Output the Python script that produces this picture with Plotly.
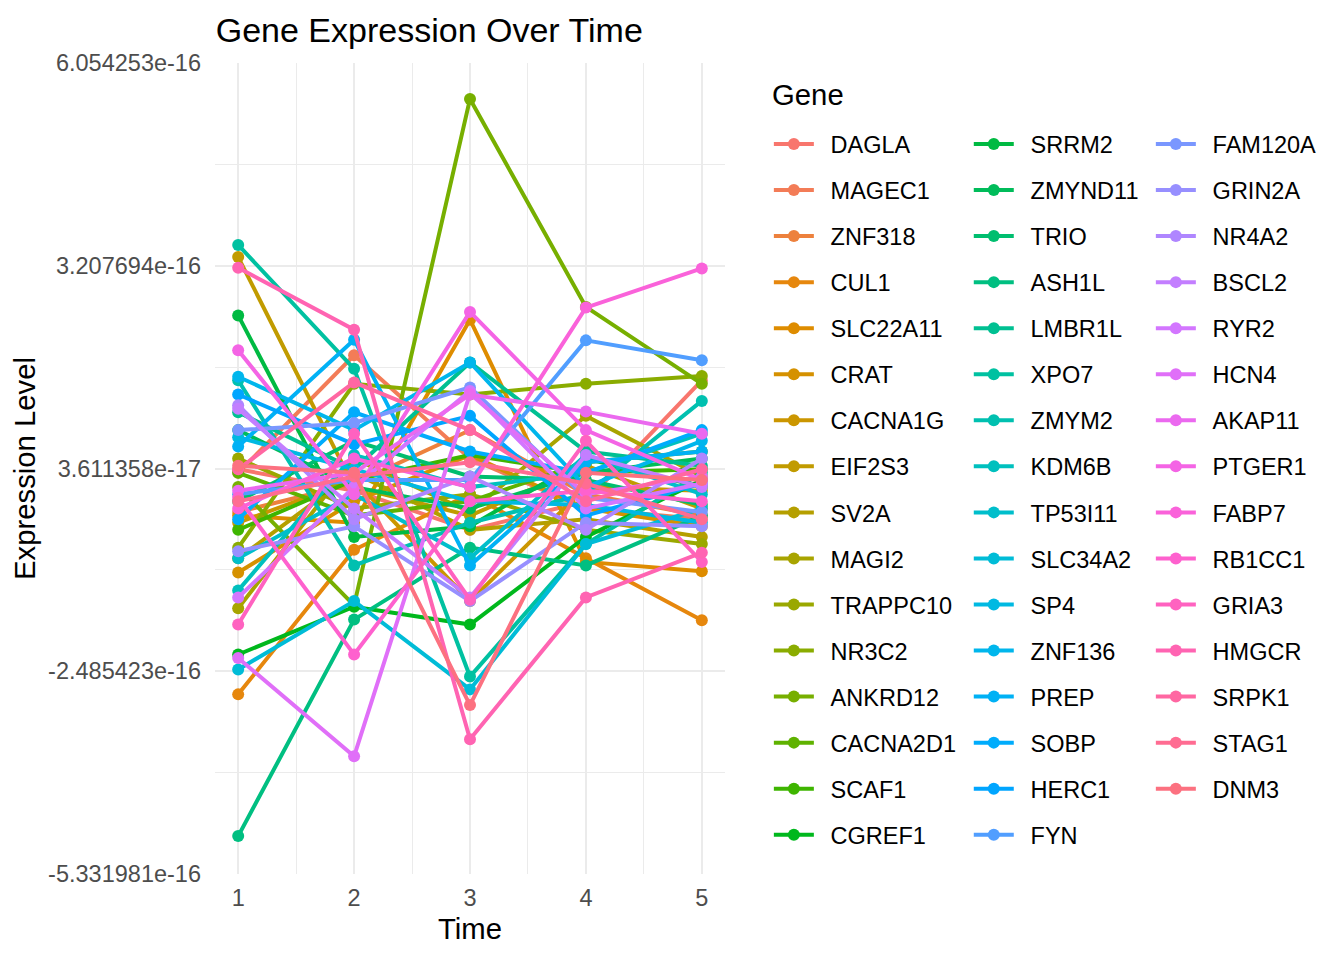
import math
import plotly.graph_objects as go

# values are in units of 1e-16
SCALE = 1e-16
times = [1, 2, 3, 4, 5]

genes = ["DAGLA", "MAGEC1", "ZNF318", "CUL1", "SLC22A11", "CRAT", "CACNA1G", "EIF2S3",
         "SV2A", "MAGI2", "TRAPPC10", "NR3C2", "ANKRD12", "CACNA2D1", "SCAF1", "CGREF1",
         "SRRM2", "ZMYND11", "TRIO", "ASH1L", "LMBR1L", "XPO7", "ZMYM2", "KDM6B",
         "TP53I11", "SLC34A2", "SP4", "ZNF136", "PREP", "SOBP", "HERC1", "FYN",
         "FAM120A", "GRIN2A", "NR4A2", "BSCL2", "RYR2", "HCN4", "AKAP11", "PTGER1",
         "FABP7", "RB1CC1", "GRIA3", "HMGCR", "SRPK1", "STAG1", "DNM3"]

DAGLA = [0.35, 0.05, -0.5, -0.1, 1.6]
MAGEC1 = [0.3, 1.95, 0.5, -0.2, -0.35]
ZNF318 = [-0.25, 0.15, 0.9, 0.0, -0.3]
CUL1 = [-2.81, -0.78, 0.0, -0.9, -1.77]
SLC22A11 = [-0.3, -0.4, 2.45, -0.95, -1.08]
CRAT = [-1.1, -0.1, 0.55, -0.2, -0.45]
CACNA1G = [-0.4, 0.2, -1.5, 0.1, 0.05]
EIF2S3 = [3.33, 0.1, -0.3, 0.4, -0.2]
SV2A = [-0.9, 0.3, -0.5, -0.35, -0.6]
MAGI2 = [-1.6, 0.5, -0.25, 1.1, 0.25]
TRAPPC10 = [0.5, -0.2, 0.0, -0.5, -0.7]
NR3C2 = [-0.75, 1.55, 1.4, 1.55, 1.66]
ANKRD12 = [0.1, -1.56, 5.55, 2.63, 1.55]
CACNA2D1 = [0.3, -0.3, -0.1, 0.45, 0.6]
SCAF1 = [-0.5, 0.2, 0.55, 0.3, 0.35]
CGREF1 = [-2.25, -1.58, -1.83, -0.6, 0.2]
SRRM2 = [2.51, -0.6, -0.45, 0.5, 0.1]
ZMYND11 = [0.9, 0.1, -0.2, 0.3, 0.5]
TRIO = [-0.1, 0.75, 0.25, 0.2, -0.15]
ASH1L = [-4.80, -1.76, -0.75, -1.0, -0.3]
LMBR1L = [1.15, 0.35, 1.85, 0.6, 0.4]
XPO7 = [3.50, 1.76, -2.56, -0.7, 0.3]
ZMYM2 = [1.6, -1.0, -0.4, 0.0, 1.31]
KDM6B = [-1.35, 0.55, 0.1, 0.3, 0.85]
TP53I11 = [-0.9, 0.0, -0.9, 0.55, 0.0]
SLC34A2 = [-2.46, -1.5, -2.74, -0.7, -0.2]
SP4 = [0.8, 0.35, -0.1, -0.15, -0.4]
ZNF136 = [1.65, 0.9, 1.85, 0.1, 0.75]
PREP = [0.67, 2.17, -1.0, 0.45, 0.6]
SOBP = [-0.35, 1.15, 0.6, 0.3, 0.9]
HERC1 = [1.4, 0.7, 1.1, -0.3, 0.15]
FYN = [0.0, 0.2, 0.2, 2.16, 1.88]
FAM120A = [0.9, 1.0, 1.5, -0.05, -0.25]
GRIN2A = [-0.8, -0.45, -1.5, -0.4, -0.45]
NR4A2 = [1.25, -0.35, 0.25, -0.5, 0.5]
BSCL2 = [1.2, -0.2, -1.45, 0.55, 0.1]
RYR2 = [-1.45, 0.1, 1.45, -0.2, 0.15]
HCN4 = [-2.30, -3.68, 1.41, 0.0, 0.25]
AKAP11 = [0.05, 0.3, 1.40, 1.16, 0.85]
PTGER1 = [2.02, 0.0, 2.56, 0.9, 0.2]
FABP7 = [-0.2, 0.5, 0.1, 2.62, 3.17]
RB1CC1 = [-0.05, -2.25, -0.1, 0.05, -0.1]
GRIA3 = [-1.83, 0.85, -1.48, 0.75, -0.95]
HMGCR = [3.18, 2.31, -3.44, -1.45, -0.82]
SRPK1 = [0.35, 1.57, 0.9, -0.1, 0.35]
STAG1 = [-0.1, 0.25, 0.45, 0.15, -0.35]
DNM3 = [0.4, 0.3, -2.96, 0.3, 0.2]

values = [DAGLA, MAGEC1, ZNF318, CUL1, SLC22A11, CRAT, CACNA1G, EIF2S3, SV2A, MAGI2,
          TRAPPC10, NR3C2, ANKRD12, CACNA2D1, SCAF1, CGREF1, SRRM2, ZMYND11, TRIO, ASH1L,
          LMBR1L, XPO7, ZMYM2, KDM6B, TP53I11, SLC34A2, SP4, ZNF136, PREP, SOBP, HERC1,
          FYN, FAM120A, GRIN2A, NR4A2, BSCL2, RYR2, HCN4, AKAP11, PTGER1, FABP7, RB1CC1,
          GRIA3, HMGCR, SRPK1, STAG1, DNM3]

y_ticks = [-5.331981e-16, -2.485423e-16, 3.611358e-17, 3.207694e-16, 6.054253e-16]
y_labels = ["-5.331981e-16", "-2.485423e-16", "3.611358e-17", "3.207694e-16", "6.054253e-16"]


def hcl_hex(h, c=100, l=65):
    # same hue palette as ggplot's default (hcl -> sRGB)
    hr = math.radians(h)
    u = c * math.cos(hr)
    v = c * math.sin(hr)
    xn, yn, zn = 95.047, 100.0, 108.883
    d = xn + 15 * yn + 3 * zn
    un, vn = 4 * xn / d, 9 * yn / d
    Y = yn * ((l + 16) / 116) ** 3
    up = u / (13 * l) + un
    vp = v / (13 * l) + vn
    X = Y * 9 * up / (4 * vp)
    Z = Y * (12 - 3 * up - 20 * vp) / (4 * vp)
    X, Y, Z = X / 100, Y / 100, Z / 100
    rgb = [3.240479 * X - 1.53715 * Y - 0.498535 * Z,
           -0.969256 * X + 1.875992 * Y + 0.041556 * Z,
           0.055648 * X - 0.204043 * Y + 1.057311 * Z]
    out = []
    for ch in rgb:
        ch = 12.92 * ch if ch <= 0.0031308 else 1.055 * ch ** (1 / 2.4) - 0.055
        ch = min(max(ch, 0), 1)
        out.append(round(ch * 255))
    return "#%02X%02X%02X" % tuple(out)


n = len(genes)
colors = [hcl_hex(15 + 360 * i / n) for i in range(n)]

FONT = "Liberation Sans, Arial, sans-serif"

fig = go.Figure()
for i, (g, vals) in enumerate(zip(genes, values)):
    leg = "legend" if i < 16 else ("legend2" if i < 32 else "legend3")
    fig.add_trace(go.Scatter(
        x=times, y=[v * SCALE for v in vals], name="\u2002" + g, mode="lines+markers",
        line=dict(color=colors[i], width=4),
        marker=dict(color=colors[i], size=12),
        legend=leg, legendgroup=g,
    ))

# minor grid at midpoints between the major ticks
y_minor = [(a + b) / 2 for a, b in zip(y_ticks[:-1], y_ticks[1:])]

leg_common = dict(xanchor="left", yanchor="top", y=0.927, bgcolor="rgba(0,0,0,0)",
                  font=dict(family=FONT, size=23.5, color="black"),
                  tracegroupgap=12.5, itemwidth=40, traceorder="grouped")

fig.update_layout(
    width=1344, height=960,
    paper_bgcolor="white", plot_bgcolor="white",
    margin=dict(l=207, r=627, t=55, b=94),
    font=dict(family=FONT, color="black"),
    title=dict(text="Gene Expression Over Time", x=0.0015, xref="paper", xanchor="left",
               y=1 - 22 / 960, yanchor="middle", font=dict(size=34, color="black")),
    xaxis=dict(range=[0.8, 5.2], tickvals=times, showgrid=True, gridcolor="#EBEBEB",
               gridwidth=1.8, zeroline=False, showline=False, ticks="",
               ticklabelstandoff=7,
               tickfont=dict(size=23.5, color="#4D4D4D"),
               minor=dict(tickvals=[1.5, 2.5, 3.5, 4.5], showgrid=True,
                          gridcolor="#EBEBEB", gridwidth=1),
               title=dict(text="Time", font=dict(size=29.3, color="black"), standoff=8)),
    yaxis=dict(range=[y_ticks[0], y_ticks[-1]], tickvals=y_ticks, ticktext=y_labels,
               showgrid=True, gridcolor="#EBEBEB", gridwidth=1.8, zeroline=False,
               showline=False, ticks="", ticklabelstandoff=13,
               tickfont=dict(size=23.5, color="#4D4D4D"),
               minor=dict(tickvals=y_minor, showgrid=True, gridcolor="#EBEBEB", gridwidth=1),
               title=dict(text="Expression Level", font=dict(size=29.3, color="black"),
                          standoff=8)),
    legend=dict(x=1.086, **leg_common),
    legend2=dict(x=1.478, **leg_common),
    legend3=dict(x=1.835, **leg_common),
    annotations=[dict(text="Gene", xref="paper", yref="paper", x=1.088, xanchor="left",
                      y=(874 - 94) / 811, yanchor="middle", showarrow=False,
                      font=dict(size=29.3, color="black"))],
)

fig.write_html("out.html")
